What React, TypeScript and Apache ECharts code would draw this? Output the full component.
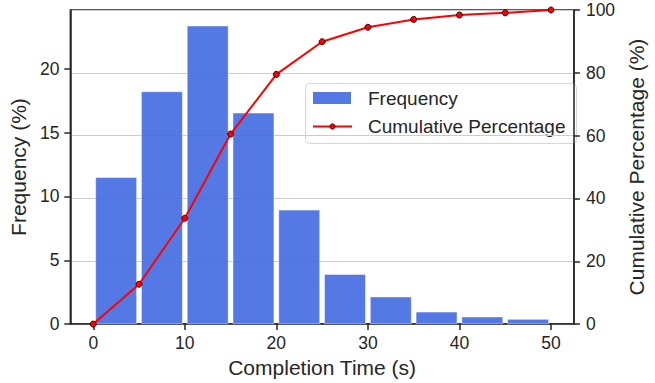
import React, { useEffect, useRef } from "react";
import * as echarts from "echarts";

const binCenters = [2.5, 7.5, 12.5, 17.5, 22.5, 27.5, 32.5, 37.5, 42.5, 47.5];
const frequency = [11.53, 18.24, 23.39, 16.57, 8.97, 3.93, 2.17, 0.98, 0.6, 0.41];
const cumX = [0, 5, 10, 15, 20, 25, 30, 35, 40, 45, 50];
const cumPct = [0, 12.7, 33.7, 60.5, 79.5, 89.9, 94.5, 97.0, 98.4, 99.1, 100];
const xTicks = [0, 10, 20, 30, 40, 50];
const leftTicks = [0, 5, 10, 15, 20];
const legendLabels = ["Frequency", "Cumulative Percentage"];

const FONT = "'Liberation Sans', Arial, Helvetica, sans-serif";
const INK = "#262626";
const BAR = "rgba(65,105,225,0.9)";
const RED = "#ff0000";

export default function App() {
  const ref = useRef<HTMLDivElement>(null);
  useEffect(() => {
    if (!ref.current) return;
    const chart = echarts.init(ref.current, null, { renderer: "svg" });
    chart.setOption({
      animation: false,
      backgroundColor: "#ffffff",
      textStyle: { fontFamily: FONT, color: INK },
      grid: {
        left: 70,
        right: 68,
        top: 10,
        bottom: 56,
        show: true,
        borderColor: INK,
        borderWidth: 1.5,
        backgroundColor: "transparent",
      },
      graphic: [
        {
          type: "group",
          z: 100,
          children: [
            {
              type: "rect",
              shape: { x: 305.5, y: 83.5, width: 271, height: 60, r: 4 },
              style: { fill: "rgba(255,255,255,0.85)", stroke: "#d6d6d6", lineWidth: 1 },
            },
            {
              type: "rect",
              shape: { x: 313, y: 92, width: 38, height: 12 },
              style: { fill: BAR },
            },
            {
              type: "line",
              shape: { x1: 313, y1: 126.5, x2: 352, y2: 126.5 },
              style: { stroke: RED, lineWidth: 2 },
            },
            {
              type: "circle",
              shape: { cx: 332.5, cy: 126.5, r: 2.6 },
              style: { fill: RED, stroke: "#3a0000", lineWidth: 1 },
            },
            {
              type: "text",
              x: 368,
              y: 98.5,
              style: {
                text: legendLabels[0],
                fontFamily: FONT,
                fontSize: 19,
                fill: INK,
                verticalAlign: "middle",
              },
            },
            {
              type: "text",
              x: 368,
              y: 126.5,
              style: {
                text: legendLabels[1],
                fontFamily: FONT,
                fontSize: 19,
                fill: INK,
                verticalAlign: "middle",
              },
            },
          ],
        },
      ],
      xAxis: {
        type: "value",
        min: -2.5,
        max: 52.5,
        name: "Completion Time (s)",
        nameLocation: "middle",
        nameGap: 32,
        nameTextStyle: { fontFamily: FONT, fontSize: 21, color: INK },
        axisLine: { show: true, onZero: false, lineStyle: { color: INK, width: 1.5 } },
        axisTick: {
          show: true,
          length: 6,
          lineStyle: { color: INK, width: 1.5 },
          customValues: xTicks,
        },
        axisLabel: {
          fontFamily: FONT,
          fontSize: 17.5,
          color: INK,
          margin: 10,
          customValues: xTicks,
        },
        splitLine: { show: false },
      },
      yAxis: [
        {
          type: "value",
          min: 0,
          max: 24.6,
          name: "Frequency (%)",
          nameLocation: "middle",
          nameGap: 34,
          nameTextStyle: { fontFamily: FONT, fontSize: 21, color: INK },
          axisLine: { show: true, onZero: false, lineStyle: { color: INK, width: 1.5 } },
          axisTick: {
            show: true,
            length: 6,
            lineStyle: { color: INK, width: 1.5 },
            customValues: leftTicks,
          },
          axisLabel: {
            fontFamily: FONT,
            fontSize: 17.5,
            color: INK,
            margin: 11,
            customValues: leftTicks,
          },
          splitLine: { show: false },
        },
        {
          type: "value",
          min: 0,
          max: 100,
          interval: 20,
          position: "right",
          name: "Cumulative Percentage (%)",
          nameLocation: "middle",
          nameGap: 49,
          nameTextStyle: { fontFamily: FONT, fontSize: 21, color: INK },
          axisLine: { show: true, onZero: false, lineStyle: { color: INK, width: 1.5 } },
          axisTick: { show: true, length: 6, lineStyle: { color: INK, width: 1.5 } },
          axisLabel: { fontFamily: FONT, fontSize: 17.5, color: INK, margin: 12 },
          splitLine: { show: true, lineStyle: { color: "#cccccc", width: 1 } },
        },
      ],
      series: [
        {
          name: "Frequency",
          type: "bar",
          xAxisIndex: 0,
          yAxisIndex: 0,
          barWidth: 42,
          data: binCenters.map((c, i) => [c, frequency[i]]),
          itemStyle: {
            color: BAR,
            borderColor: "rgba(255,255,255,0.5)",
            borderWidth: 1,
          },
          z: 2,
        },
        {
          name: "Cumulative Percentage",
          type: "line",
          xAxisIndex: 0,
          yAxisIndex: 1,
          data: cumX.map((x, i) => [x, cumPct[i]]),
          smooth: false,
          symbol: "circle",
          symbolSize: 6,
          lineStyle: { color: RED, width: 2 },
          itemStyle: { color: RED, borderColor: "#3a0000", borderWidth: 1 },
          z: 3,
        },
      ],
    });
    return () => chart.dispose();
  }, []);
  return (
    <div
      ref={ref}
      style={{ position: "fixed", left: 0, top: 0, width: 655, height: 383 }}
    />
  );
}
